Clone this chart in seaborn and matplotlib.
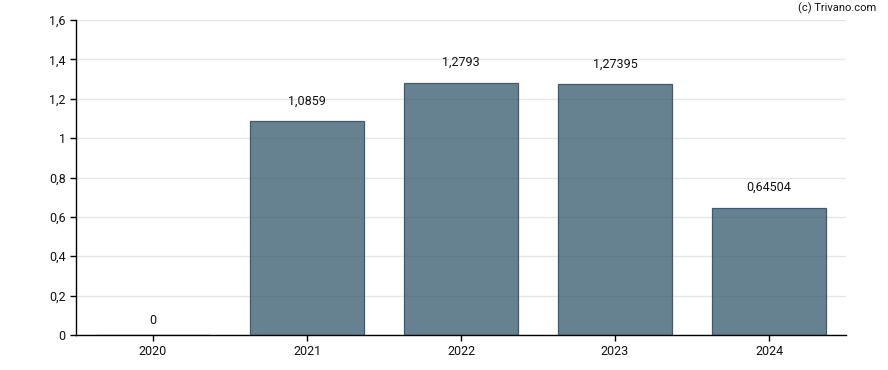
import matplotlib
matplotlib.use("Agg")
import matplotlib.pyplot as plt
import seaborn as sns
import pandas as pd

years = ["2020", "2021", "2022", "2023", "2024"]
values = [0, 1.0859, 1.2793, 1.27395, 0.64504]
labels = ["0", "1,0859", "1,2793", "1,27395", "0,64504"]
yticks = [0, 0.2, 0.4, 0.6, 0.8, 1.0, 1.2, 1.4, 1.6]
ytick_labels = ["0", "0,2", "0,4", "0,6", "0,8", "1", "1,2", "1,4", "1,6"]

sns.set_style("white")
plt.rcParams['font.family'] = ['Roboto', 'DejaVu Sans']

df = pd.DataFrame({"year": years, "value": values})

fig = plt.figure(figsize=(8.88, 3.70), dpi=100)
ax = fig.add_axes([76 / 888, 1 - 335 / 370, (846 - 76) / 888, (335 - 20) / 370])

sns.barplot(data=df, x="year", y="value", ax=ax, color="#33586c",
            width=0.74, saturation=1, edgecolor="#3f5a6e", linewidth=0.9)
for p in ax.patches:
    p.set_facecolor((0.2, 0.345, 0.424, 0.75))

for i, (v, lab) in enumerate(zip(values, labels)):
    off = 10 if v > 0 else 6
    ax.annotate(lab, (i, v), xytext=(0, off), textcoords="offset points",
                ha="center", va="bottom", fontsize=9, color="#111111")

ax.set_ylim(0, 1.6)
ax.set_xlim(-0.5, 4.5)
ax.set_yticks(yticks)
ax.set_yticklabels(ytick_labels)
ax.yaxis.grid(True, color="#e6e6e6", linewidth=1)
ax.set_axisbelow(True)
ax.set_xlabel("")
ax.set_ylabel("")
for s in ["top", "right"]:
    ax.spines[s].set_visible(False)
for s in ["left", "bottom"]:
    ax.spines[s].set_color("black")
    ax.spines[s].set_linewidth(1)
ax.tick_params(axis="both", length=4, width=1, color="black", labelsize=9,
               labelcolor="#111111", direction="out", bottom=True, left=True)

fig.text(876 / 888, 1 - 8 / 370, "(c) Trivano.com", ha="right", va="center",
         fontsize=8, color="#111111")

fig.savefig("out.png", dpi=100)
